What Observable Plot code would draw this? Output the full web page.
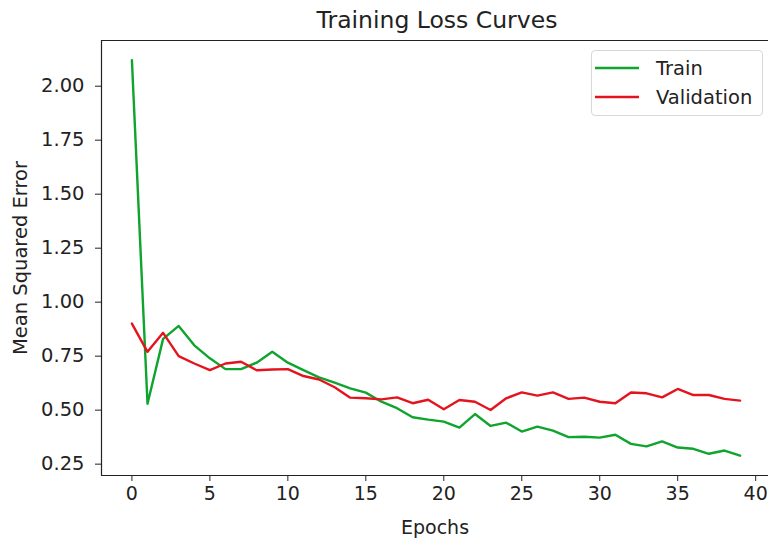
<!DOCTYPE html>
<html>
<head>
<meta charset="utf-8">
<script src="https://cdn.jsdelivr.net/npm/d3@7"></script>
<script src="https://cdn.jsdelivr.net/npm/@observablehq/plot@0.6"></script>
<style>
  html, body { margin: 0; padding: 0; background: #fff; }
  #wrap { position: relative; width: 768px; height: 543px; font-family: "DejaVu Sans", sans-serif; }
  #legend { position: absolute; left: 591px; top: 50px; width: 170px; height: 64px;
    border: 1px solid #d8d8d8; border-radius: 4px; background: rgba(255,255,255,0.8);
    font-size: 19.5px; color: #222; }
  .item { position: absolute; left: 3px; display: flex; align-items: center; height: 24px; }
  .item svg { margin-right: 17px; }
</style>
</head>
<body>
<div id="wrap"><div id="legend"></div></div>
<script>
const title = "Training Loss Curves";
const xLabel = "Epochs";
const yLabel = "Mean Squared Error";
const seriesNames = ["Train", "Validation"];
const seriesColors = ["#0ea42e", "#e4141e"];
const epochs = [0,1,2,3,4,5,6,7,8,9,10,11,12,13,14,15,16,17,18,19,20,21,22,23,24,25,26,27,28,29,30,31,32,33,34,35,36,37,38,39];
const train = [2.12,0.53,0.83,0.89,0.80,0.74,0.69,0.69,0.72,0.77,0.72,0.685,0.652,0.627,0.601,0.581,0.539,0.509,0.467,0.456,0.447,0.419,0.482,0.427,0.442,0.401,0.424,0.405,0.375,0.377,0.373,0.386,0.344,0.332,0.355,0.327,0.321,0.298,0.313,0.289];
const validation = [0.901,0.770,0.858,0.750,0.716,0.685,0.716,0.724,0.685,0.688,0.690,0.658,0.642,0.606,0.558,0.555,0.550,0.559,0.532,0.548,0.504,0.547,0.539,0.501,0.555,0.582,0.567,0.582,0.552,0.558,0.539,0.532,0.582,0.578,0.559,0.598,0.570,0.570,0.552,0.544];
const xTicks = [0,5,10,15,20,25,30,35,40];
const yTicks = [0.25,0.50,0.75,1.00,1.25,1.50,1.75,2.00];

const rows = [];
epochs.forEach((e, i) => {
  rows.push({epoch: e, value: train[i], series: seriesNames[0]});
  rows.push({epoch: e, value: validation[i], series: seriesNames[1]});
});

// matplotlib-like 5% margins
const xmin = d3.min(epochs), xmax = d3.max(epochs);
const xpad = (xmax - xmin) * 0.05;
const allY = train.concat(validation);
const ymin = d3.min(allY), ymax = d3.max(allY);
const ypad = (ymax - ymin) * 0.05;
const xDomain = [xmin - xpad, xmax + xpad];
const yDomain = [ymin - ypad, ymax + ypad];

const W = 768, H = 543, ML = 101, MT = 40, MB = 68;

const chart = Plot.plot({
  width: W,
  height: H,
  marginLeft: ML,
  marginTop: MT,
  marginBottom: MB,
  marginRight: 0,
  style: {fontFamily: "DejaVu Sans, sans-serif", fontSize: "19.5px", color: "#222", background: "white"},
  x: {domain: xDomain, range: [ML, 770]},
  y: {domain: yDomain},
  color: {domain: seriesNames, range: seriesColors},
  marks: [
    Plot.line(rows, {x: "epoch", y: "value", stroke: "series", strokeWidth: 2.4, z: "series"}),
    Plot.ruleX([xDomain[0]], {stroke: "#222", strokeWidth: 1.2}),
    Plot.ruleY([yDomain[0]], {stroke: "#222", strokeWidth: 1.2}),
    Plot.ruleY([yDomain[1]], {stroke: "#222", strokeWidth: 1.2}),
    Plot.axisX({ticks: xTicks, tickSize: 6, tickPadding: 5, tickFormat: d3.format("d"), fontSize: 19,
      label: xLabel, labelAnchor: "center", labelArrow: "none", labelOffset: 58, stroke: "#222"}),
    Plot.axisY({ticks: yTicks, tickSize: 6, tickPadding: 11, tickFormat: d3.format(".2f"),
      label: yLabel, labelAnchor: "center", labelArrow: "none", labelOffset: 88, stroke: "#222"}),
    Plot.text([title], {frameAnchor: "top", lineAnchor: "middle", dy: -20, dx: 2, fontSize: 23.5, fill: "#222"})
  ]
});
document.getElementById("wrap").prepend(chart);

const legend = document.getElementById("legend");
seriesNames.forEach((name, i) => {
  const item = document.createElement("div");
  item.className = "item";
  item.style.top = (5 + i * 29) + "px";
  item.innerHTML = `<svg width="44" height="24"><line x1="0" x2="44" y1="12" y2="12" stroke="${seriesColors[i]}" stroke-width="2.6"/></svg><span>${name}</span>`;
  legend.appendChild(item);
});
</script>
</body>
</html>
